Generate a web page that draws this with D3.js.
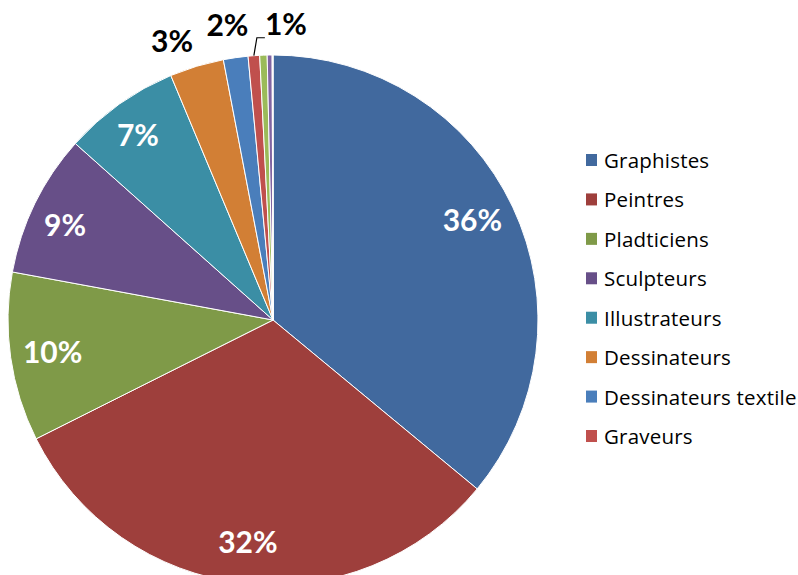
<!DOCTYPE html>
<html>
<head>
<meta charset="utf-8">
<script src="https://cdn.jsdelivr.net/npm/d3@7/dist/d3.min.js"></script>
<style>
  html, body { margin: 0; padding: 0; background: #fff; }
  svg { display: block; }
</style>
</head>
<body>
<svg id="chart" width="798" height="575"></svg>
<script>
// ---- data ----
const categories = ["Graphistes", "Peintres", "Pladticiens", "Sculpteurs", "Illustrateurs",
  "Dessinateurs", "Dessinateurs textile", "Graveurs", "Autres 1", "Autres 2", "Autres 3", "Autres 4"];
const values = [36.0, 31.6, 10.3, 8.7, 7.1, 3.3, 1.5, 0.7, 0.45, 0.3, 0.03, 0.02];
const labels = ["36%", "32%", "10%", "9%", "7%", "3%", "2%", "1%", "", "", "", ""];
const legendCount = 8;
const colors = ["#41699E", "#9E3F3C", "#7F9A48", "#674F88", "#3B8EA5", "#D27F35",
  "#4A7EBB", "#C0504D", "#9BBB59", "#8064A2", "#4BACC6", "#F79646"];

// ---- layout ----
const svg = d3.select("#chart");
const cx = 273, cy = 320, R = 265;

const pie = d3.pie().sort(null).value(d => d.v);
const data = pie(values.map((v, i) => ({ v, i })));
const arc = d3.arc().innerRadius(0).outerRadius(R);

const g = svg.append("g").attr("transform", `translate(${cx},${cy})`);
g.selectAll("path.slice").data(data).join("path")
  .attr("class", "slice")
  .attr("d", arc)
  .attr("fill", d => colors[d.data.i])
  .attr("stroke", "#ffffff")
  .attr("stroke-width", 1);

// labels
const inside = d3.arc().innerRadius(R * 0.84).outerRadius(R * 0.84);
const labelG = g.append("g");
data.forEach(d => {
  const txt = labels[d.data.i];
  if (!txt) return;
  const share = d.data.v / 100;
  let x, y, fill;
  if (share >= 0.05) {
    [x, y] = inside.centroid(d);
    fill = "#ffffff";
  } else {
    const a = (d.startAngle + d.endAngle) / 2;
    const rr = R + 30;
    x = Math.sin(a) * rr;
    y = -Math.cos(a) * rr;
    fill = "#000000";
  }
  // nudges resembling the original label placement
  if (d.data.i === 0) { x -= 2; y -= 6; }
  if (d.data.i === 3) { x -= 8; y += 2; }
  if (d.data.i === 4) { x -= 6; y -= 5; }
  if (d.data.i === 5) { x -= 16; y += 2; }
  if (d.data.i === 6) { x = x - 4; y = y - 4; }
  if (d.data.i === 7) {
    const a = (d.startAngle + d.endAngle) / 2;
    const px = Math.sin(a) * R, py = -Math.cos(a) * R;
    const lx = px + 3, ly = -Math.cos(a) * (R + 18);
    labelG.append("polyline")
      .attr("points", `${px},${py} ${lx},${ly} ${lx + 8},${ly}`)
      .attr("fill", "none").attr("stroke", "#000").attr("stroke-width", 1.2);
    x = lx + 29; y = ly - 15;
  }
  labelG.append("text")
    .attr("x", x).attr("y", y)
    .attr("text-anchor", "middle")
    .attr("dominant-baseline", "central")
    .attr("font-family", "Lato, 'Open Sans', sans-serif")
    .attr("font-weight", "bold")
    .attr("font-size", 30)
    .attr("fill", fill)
    .text(txt);
});

// legend
const legend = svg.append("g").attr("transform", "translate(586,160)");
const rowH = 39.43;
const items = legend.selectAll("g.item").data(categories.slice(0, legendCount)).join("g")
  .attr("class", "item")
  .attr("transform", (d, i) => `translate(0,${i * rowH})`);
items.append("rect")
  .attr("x", 0).attr("y", -6).attr("width", 11).attr("height", 12)
  .attr("fill", (d, i) => colors[i]);
items.append("text")
  .attr("x", 18).attr("y", 0)
  .attr("dominant-baseline", "central")
  .attr("font-family", "'Open Sans', Lato, sans-serif")
  .attr("font-size", 20.5)
  .attr("letter-spacing", 0.2)
  .attr("fill", "#000")
  .text(d => d);
</script>
</body>
</html>
